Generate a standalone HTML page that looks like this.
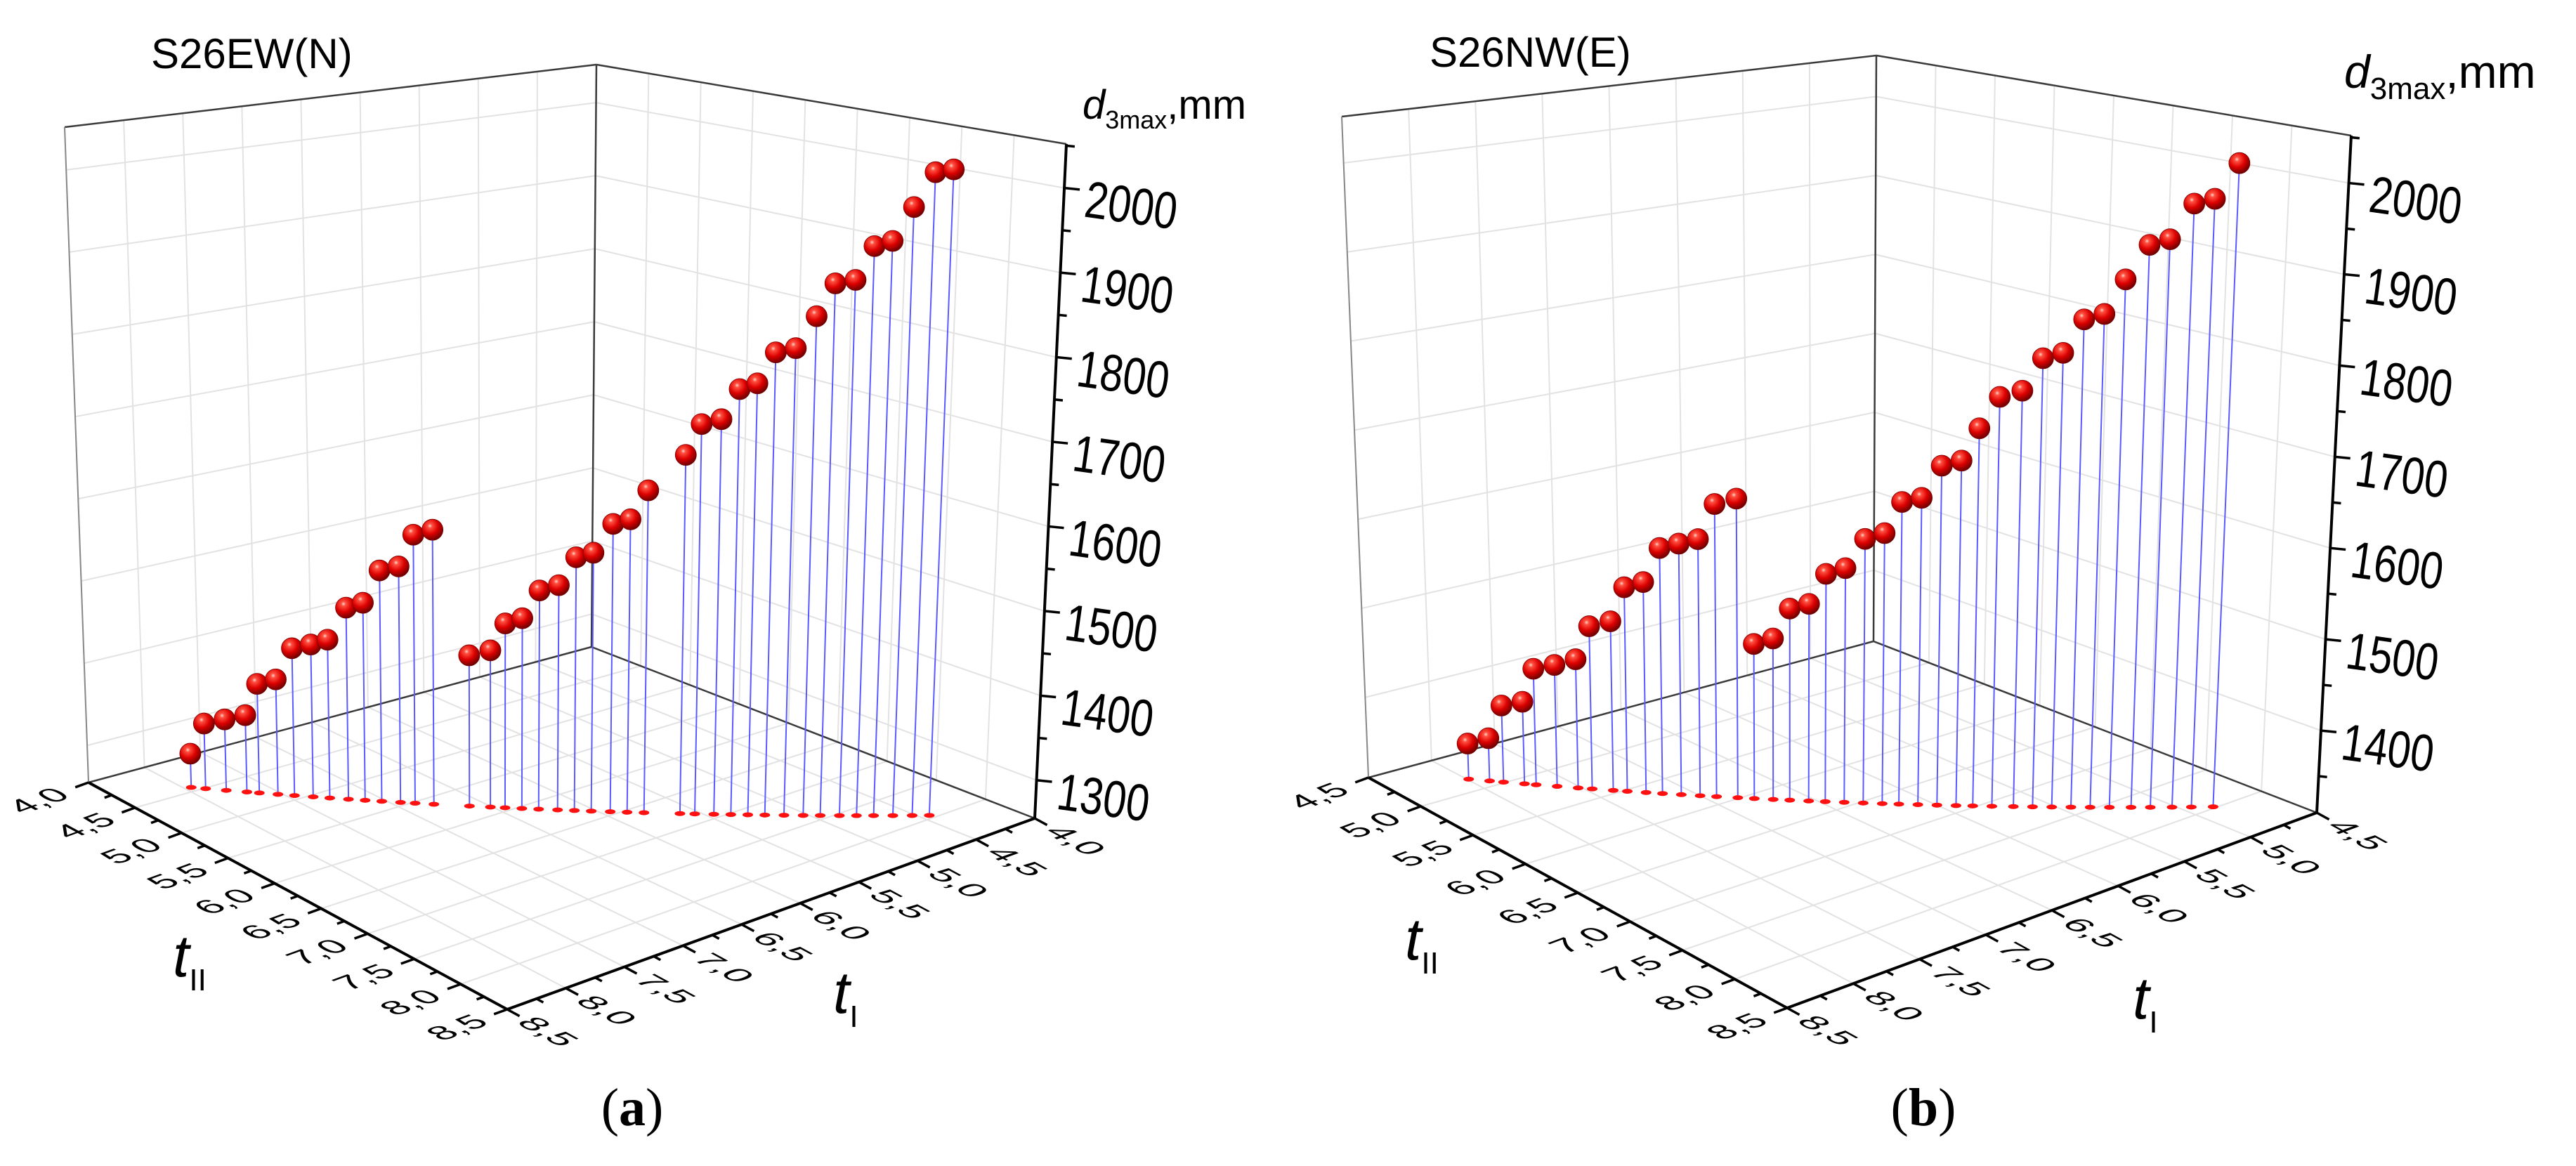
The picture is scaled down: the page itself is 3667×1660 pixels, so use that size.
<!DOCTYPE html>
<html><head><meta charset="utf-8"><style>
html,body{margin:0;padding:0;background:#fff;}
svg{display:block;font-family:"Liberation Sans",Arial,sans-serif;}
</style></head><body>
<svg id="chart" width="3667" height="1660" viewBox="0 0 3667 1660" xmlns="http://www.w3.org/2000/svg">
<defs>
<radialGradient id="ball" cx="0.38" cy="0.32" r="0.7">
<stop offset="0" stop-color="#ffd8d0"/><stop offset="0.15" stop-color="#ff5040"/><stop offset="0.55" stop-color="#dc0000"/><stop offset="1" stop-color="#6a0000"/>
</radialGradient>
</defs>
<g id="panelA"></g>
<g id="panelB"></g>
<text x="900" y="1602" text-anchor="middle" font-family="Liberation Serif,serif" font-size="76">(<tspan font-weight="bold">a</tspan>)</text>
<text x="2738" y="1602" text-anchor="middle" font-family="Liberation Serif,serif" font-size="76">(<tspan font-weight="bold">b</tspan>)</text>
</svg>
<script>
// ---- Panel (a) data: S26EW(N)
const tI_a = [7.95,7.88,7.78,7.68,7.62,7.53,7.45,7.36,7.28,7.19,7.11,7.03,6.94,6.87,6.78,6.61,6.51,6.44,6.36,6.28,6.19,6.11,6.03,5.94,5.86,5.78,5.61,5.54,5.45,5.37,5.29,5.21,5.12,5.03,4.95,4.86,4.78,4.70,4.61,4.52,4.44];
const tII_a = [4.44,4.51,4.61,4.71,4.77,4.86,4.94,5.03,5.11,5.20,5.28,5.36,5.45,5.52,5.61,5.78,5.88,5.95,6.03,6.11,6.20,6.28,6.36,6.45,6.53,6.61,6.78,6.85,6.94,7.02,7.10,7.18,7.27,7.36,7.44,7.53,7.61,7.69,7.78,7.87,7.95];
const d_a = [1296,1334,1341,1348,1387,1394,1433,1439,1446,1486,1493,1533,1539,1578,1585,1436,1443,1476,1483,1517,1524,1558,1564,1599,1605,1640,1683,1720,1726,1762,1769,1806,1811,1849,1888,1892,1932,1938,1978,2019,2022];
const zTicks_a = [1300,1400,1500,1600,1700,1800,1900,2000];
const tTicks_a = [4.0,4.5,5.0,5.5,6.0,6.5,7.0,7.5,8.0,8.5];
// ---- Panel (b) data: S26NW(E)
const tI_b = [7.99,7.90,7.84,7.75,7.70,7.61,7.52,7.46,7.37,7.31,7.23,7.16,7.08,7.00,6.93,6.84,6.77,6.69,6.62,6.54,6.47,6.39,6.31,6.23,6.16,6.08,6.00,5.92,5.85,5.77,5.68,5.60,5.52,5.44,5.36,5.28,5.19,5.11,5.02,4.94,4.85];
const tII_b = [4.84,4.93,4.99,5.08,5.13,5.22,5.31,5.37,5.46,5.52,5.60,5.67,5.75,5.83,5.90,5.99,6.06,6.14,6.21,6.29,6.36,6.44,6.52,6.60,6.67,6.75,6.83,6.91,6.98,7.06,7.15,7.23,7.31,7.39,7.47,7.55,7.64,7.72,7.81,7.89,7.98];
const d_b = [1350,1358,1396,1402,1440,1446,1454,1492,1499,1538,1545,1584,1590,1596,1636,1643,1482,1489,1523,1529,1563,1570,1603,1610,1645,1650,1686,1692,1728,1763,1770,1806,1812,1849,1855,1893,1931,1937,1976,1981,2020];
const zTicks_b = [1400,1500,1600,1700,1800,1900,2000];
const tTicks_b = [4.5,5.0,5.5,6.0,6.5,7.0,7.5,8.0,8.5];

const NS = "http://www.w3.org/2000/svg";
function mk(parent, tag, attrs){ const e=document.createElementNS(NS,tag); for(const k in attrs) e.setAttribute(k,attrs[k]); parent.appendChild(e); return e; }

function makePanel(cfg){
  const g = document.getElementById(cfg.id);
  const c = cfg.c;
  const lo=cfg.tlo, hi=cfg.thi, zmin=cfg.zmin, zmax=cfg.zmax;
  function bil(P,u,v){ return [P.B[0]*(1-u)*(1-v)+P.L[0]*u*(1-v)+P.R[0]*(1-u)*v+P.F[0]*u*v, P.B[1]*(1-u)*(1-v)+P.L[1]*u*(1-v)+P.R[1]*(1-u)*v+P.F[1]*u*v]; }
  const bot={B:c.B,L:c.L,R:c.R,F:c.F}, top={B:c.TB,L:c.TL,R:c.TR,F:c.TF};
  function proj(tI,tII,z){
    const u=(tI-lo)/(hi-lo), v=(tII-lo)/(hi-lo), w=(z-zmin)/(zmax-zmin);
    const b=bil(bot,u,v), t=bil(top,u,v);
    return [b[0]+w*(t[0]-b[0]), b[1]+w*(t[1]-b[1])];
  }
  const grid = mk(g,'g',{stroke:'#e2e2e2','stroke-width':2,fill:'none'});
  
  
  function line(parent,p,q){ return mk(parent,'line',{x1:p[0],y1:p[1],x2:q[0],y2:q[1]}); }
  cfg.tTicks.forEach(t=>{ line(grid,proj(t,lo,zmin),proj(t,hi,zmin)); line(grid,proj(lo,t,zmin),proj(hi,t,zmin)); });
  cfg.tTicks.forEach(t=>{ line(grid,proj(t,lo,zmin),proj(t,lo,zmax)); line(grid,proj(lo,t,zmin),proj(lo,t,zmax)); });
  cfg.zTicks.forEach(z=>{ line(grid,proj(lo,lo,z),proj(hi,lo,z)); line(grid,proj(lo,lo,z),proj(lo,hi,z)); });
  const fr = mk(g,'g',{stroke:'#3a3a3a','stroke-width':2.5,fill:'none'});
  
  
  line(fr,proj(hi,lo,zmax),proj(lo,lo,zmax)); line(fr,proj(lo,lo,zmax),proj(lo,hi,zmax));
  line(fr,proj(lo,lo,zmin),proj(lo,lo,zmax));
  line(fr,proj(lo,lo,zmin),proj(hi,lo,zmin)); line(fr,proj(lo,lo,zmin),proj(lo,hi,zmin));
  const le=line(fr,proj(hi,lo,zmin),proj(hi,lo,zmax)); le.setAttribute('stroke','#888'); le.setAttribute('stroke-width','2');
  const ax = mk(g,'g',{stroke:'#000','stroke-width':4,fill:'none'});
  
  
  line(ax,proj(hi,lo,zmin),proj(hi,hi,zmin));
  line(ax,proj(hi,hi,zmin),proj(lo,hi,zmin));
  line(ax,proj(lo,hi,zmin),proj(lo,hi,zmax));
  function unit(a,b){ const dx=b[0]-a[0], dy=b[1]-a[1], l=Math.hypot(dx,dy); return [dx/l,dy/l]; }
  const dFR = unit(c.R,c.F), dLF = unit(c.L,c.F), dRF=unit(c.F,c.R);
  const labs = mk(g,'g',{fill:'#000'});
  
  
  const fmt = t=>t.toFixed(1).replace('.',',');
  for(let t=lo;t<=hi+1e-9;t+=0.25){
    const p=proj(hi,t,zmin), major=Math.abs(t*2-Math.round(t*2))<1e-6, len=major?20:11;
    line(ax,p,[p[0]+dFR[0]*len,p[1]+dFR[1]*len]).setAttribute('stroke-width','3.5');
  }
  cfg.tTicks.forEach(t=>{
    const p=proj(hi,t,zmin), cx=p[0]+dFR[0]*76, cy=p[1]+dFR[1]*76;
    const tx=mk(labs,'text',{'font-size':cfg.fs,'text-anchor':'middle','dominant-baseline':'central',
      transform:`matrix(${dRF[0]*0.95},${dRF[1]*0.95},${dLF[0]*0.8},${dLF[1]*0.8},${cx},${cy})`});
    
    
    tx.textContent=fmt(t);
  });
  for(let t=lo;t<=hi+1e-9;t+=0.25){
    const p=proj(t,hi,zmin), major=Math.abs(t*2-Math.round(t*2))<1e-6, len=major?20:11;
    line(ax,p,[p[0]+dLF[0]*len,p[1]+dLF[1]*len]).setAttribute('stroke-width','3.5');
  }
  cfg.tTicks.forEach(t=>{
    const p=proj(t,hi,zmin), cx=p[0]+dLF[0]*66, cy=p[1]+dLF[1]*66;
    const tx=mk(labs,'text',{'font-size':cfg.fs,'text-anchor':'middle','dominant-baseline':'central',
      transform:`matrix(${dLF[0]*0.95},${dLF[1]*0.95},${-dRF[0]*0.8},${-dRF[1]*0.8},${cx},${cy})`});
    
    
    tx.textContent=fmt(t);
  });
  for(let z=Math.ceil(zmin/50)*50; z<=zmax; z+=50){
    const p=proj(lo,hi,z), major=(z%100===0), len=major?22:12;
    line(ax,p,[p[0]+len,p[1]+len*0.1]).setAttribute('stroke-width','3.5');
  }
  cfg.zTicks.forEach(z=>{
    const p=proj(lo,hi,z);
    const tx=mk(labs,'text',{'font-size':74,'dominant-baseline':'central',
      transform:`translate(${p[0]+30},${p[1]+16}) rotate(8) scale(0.8,1)`});
    
    
    tx.textContent=String(z);
  });
  const stems=mk(g,'g',{stroke:'#5a5aff','stroke-width':2});
  
  
  const feet=mk(g,'g',{fill:'#ff1010'});
  
  
  const balls=mk(g,'g',{});
  
  
  for(let i=0;i<cfg.tI.length;i++){
    const f=proj(cfg.tI[i],cfg.tII[i],zmin), b=proj(cfg.tI[i],cfg.tII[i],cfg.d[i]);
    line(stems,f,b);
    const e=mk(feet,'ellipse',{cx:f[0],cy:f[1],rx:7.5,ry:3.5});
    
    
  }
  for(let i=0;i<cfg.tI.length;i++){
    const b=proj(cfg.tI[i],cfg.tII[i],cfg.d[i]);
    const s=mk(balls,'circle',{cx:b[0],cy:b[1],r:15,fill:'url(#ball)',stroke:'#700','stroke-width':0.8});
    
    
  }
}

makePanel({id:'panelA', tlo:4.0, thi:8.5, zmin:1255, zmax:2052, fs:56,
  c:{B:[842,921],L:[126,1114],R:[1473,1165],F:[722,1437],TB:[849,92],TL:[92,181],TR:[1518,205],TF:[725,356]},
  tI:tI_a, tII:tII_a, d:d_a, zTicks:zTicks_a, tTicks:tTicks_a});
makePanel({id:'panelB', tlo:4.5, thi:8.5, zmin:1310, zmax:2052, fs:56,
  c:{B:[2667,913],L:[1948,1107],R:[3298,1157],F:[2544,1435],TB:[2671,79],TL:[1910,166],TR:[3347,193],TF:[2547,347]},
  tI:tI_b, tII:tII_b, d:d_b, zTicks:zTicks_b, tTicks:tTicks_b});
</script>
<svg style="position:absolute;left:0;top:0" width="3667" height="1660" viewBox="0 0 3667 1660">
<text x="215" y="97" font-family="Liberation Sans,sans-serif" font-size="60">S26EW(N)</text>
<text x="2035" y="95" font-family="Liberation Sans,sans-serif" font-size="60">S26NW(E)</text>
<text x="1541" y="169" font-family="Liberation Sans,sans-serif" font-size="58"><tspan font-style="italic">d</tspan><tspan font-size="36" dy="14">3max</tspan><tspan dy="-14">,mm</tspan></text>
<text x="3337" y="125" font-family="Liberation Sans,sans-serif" font-size="66"><tspan font-style="italic">d</tspan><tspan font-size="44" dy="16">3max</tspan><tspan dy="-16">,mm</tspan></text>
<text x="246" y="1390" font-family="Liberation Sans,sans-serif" font-style="italic" font-size="84">t<tspan font-style="normal" font-size="44" dy="20">II</tspan></text>
<text x="1186" y="1442" font-family="Liberation Sans,sans-serif" font-style="italic" font-size="84">t<tspan font-style="normal" font-size="44" dy="20">I</tspan></text>
<text x="2000" y="1366" font-family="Liberation Sans,sans-serif" font-style="italic" font-size="84">t<tspan font-style="normal" font-size="44" dy="20">II</tspan></text>
<text x="3036" y="1450" font-family="Liberation Sans,sans-serif" font-style="italic" font-size="84">t<tspan font-style="normal" font-size="44" dy="20">I</tspan></text>
</svg>
</body></html>
